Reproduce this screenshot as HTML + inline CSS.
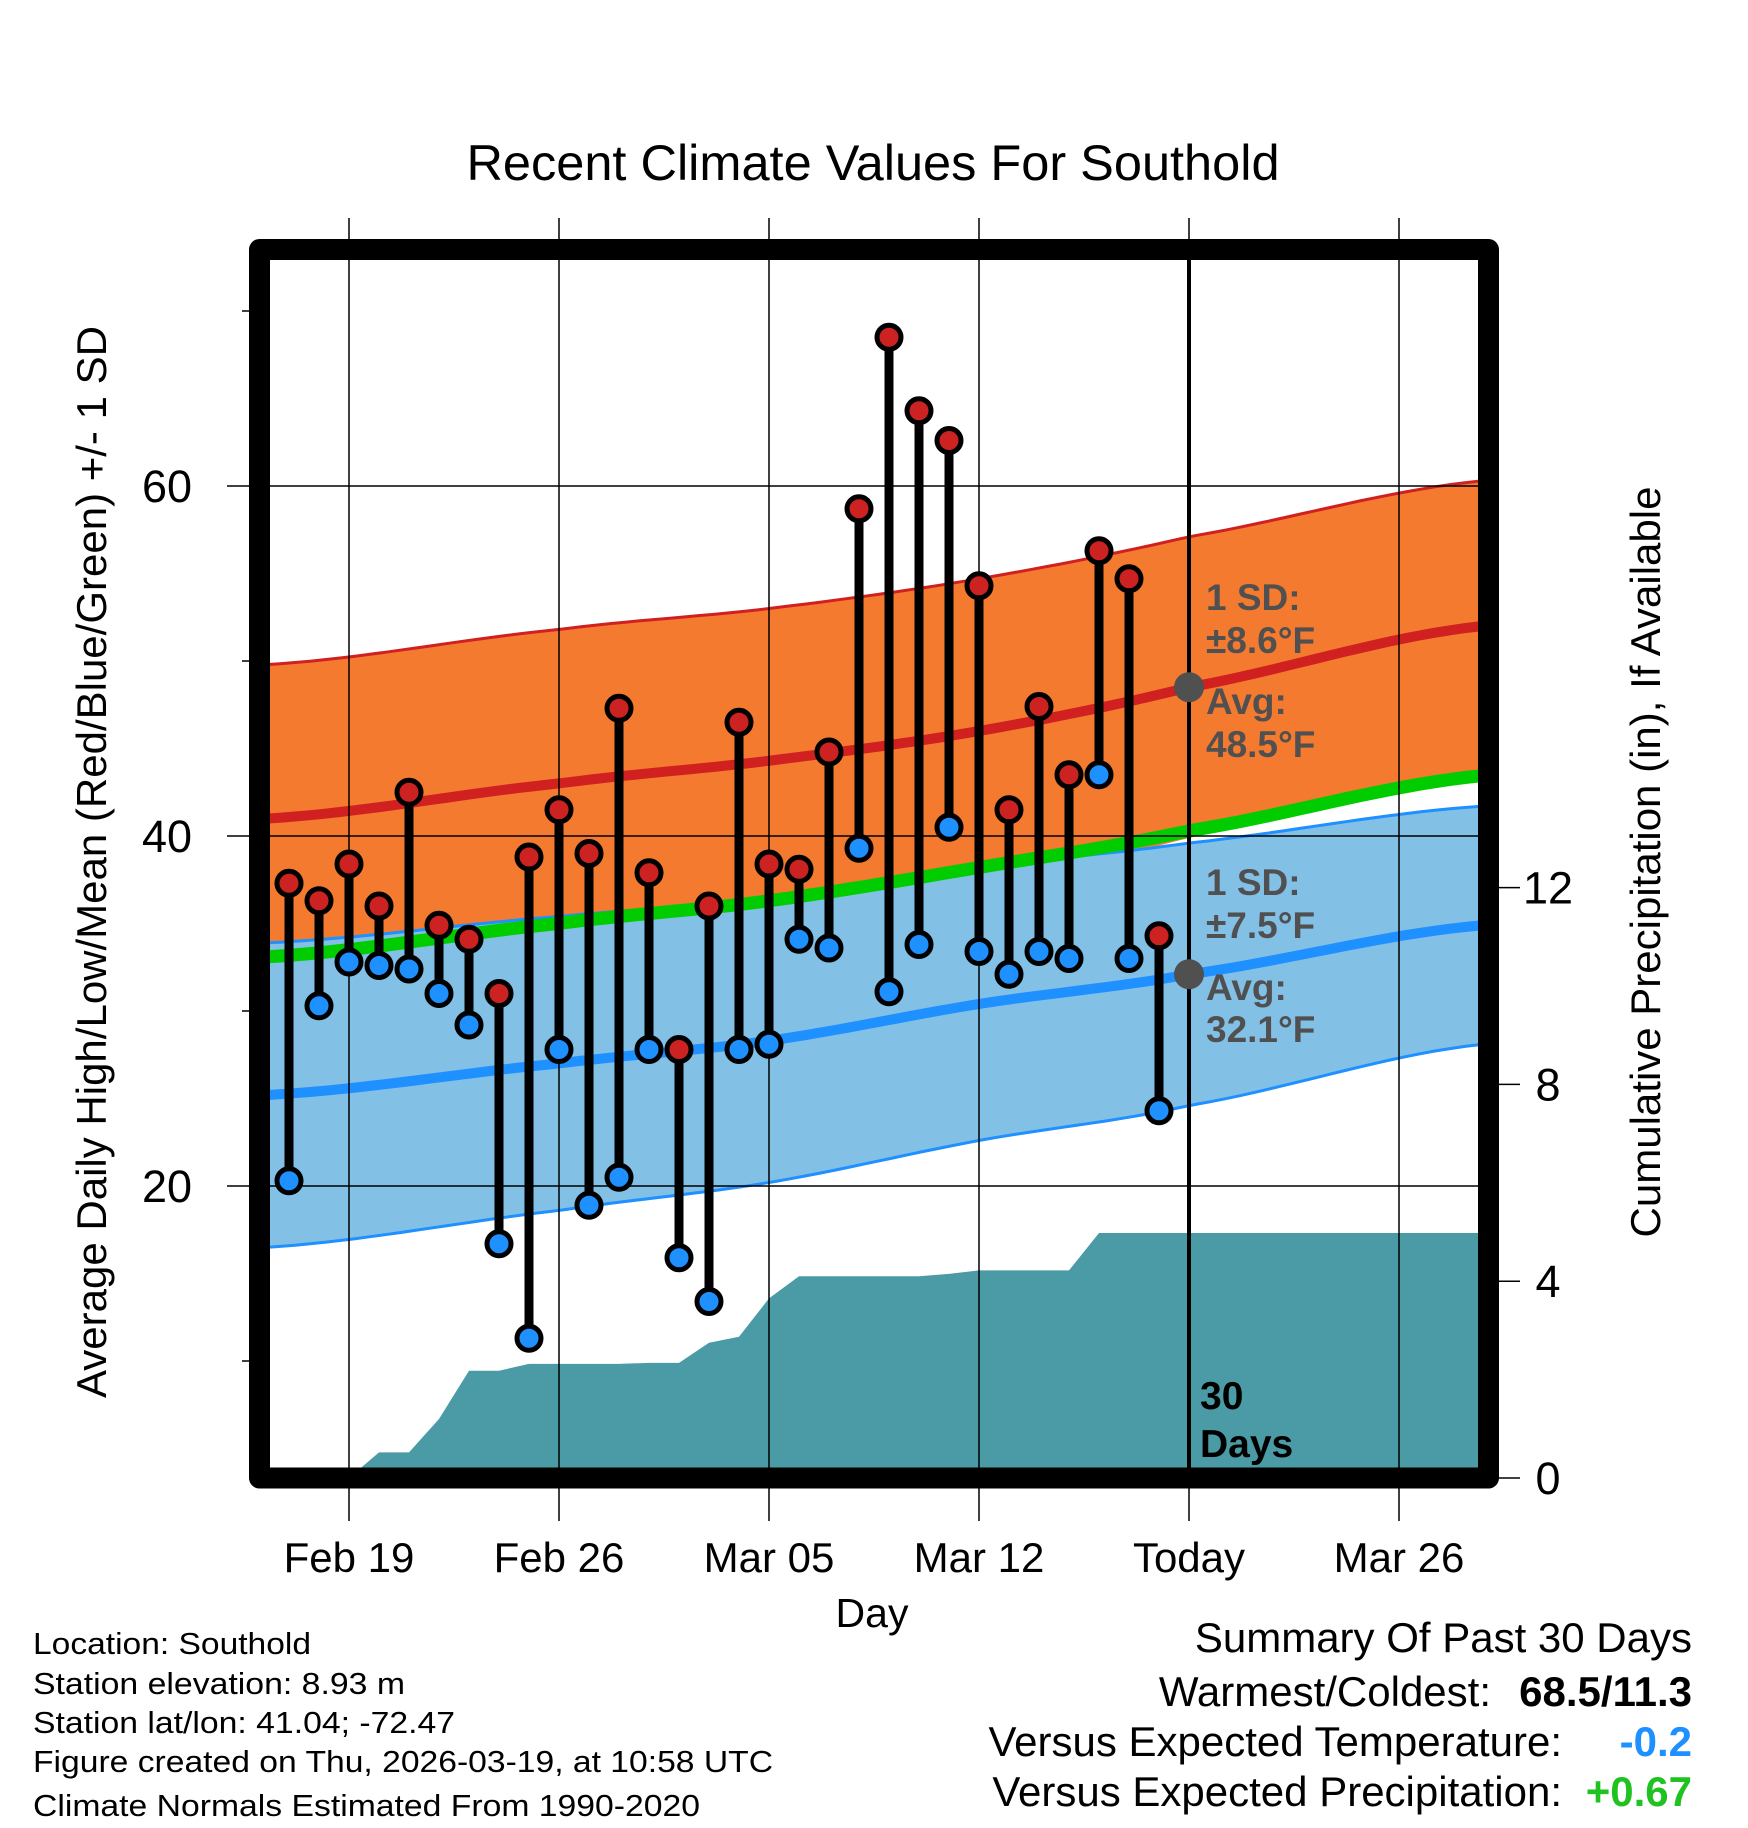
<!DOCTYPE html>
<html><head><meta charset="utf-8"><style>
html,body{margin:0;padding:0;background:#fff}
svg{display:block}
text{font-family:"Liberation Sans",Arial,sans-serif}
</style></head><body>
<svg id="chart" xmlns="http://www.w3.org/2000/svg" width="1748" height="1828" viewBox="0 0 1748 1828">
<defs><clipPath id="plotclip"><rect x="270" y="260" width="1208" height="1208"/></clipPath></defs>
<g id="bands" clip-path="url(#plotclip)"></g>
<g id="grid"></g>
<g id="marks"></g>
<rect x="259.5" y="249.5" width="1229" height="1228.5" fill="none" stroke="#000" stroke-width="21" stroke-linejoin="round"/>
<g id="axes"></g>
<text x="873" y="180" font-size="50.5" text-anchor="middle">Recent Climate Values For Southold</text>
<text transform="translate(106,862) rotate(-90)" font-size="42" text-anchor="middle">Average Daily High/Low/Mean (Red/Blue/Green) +/- 1 SD</text>
<text transform="translate(1660,862) rotate(-90)" font-size="42" text-anchor="middle">Cumulative Precipitation (in), If Available</text>
<text x="872" y="1627" font-size="41" text-anchor="middle">Day</text>
<g font-size="37" font-weight="bold" fill="#505050">
<text x="1206" y="610">1 SD:</text><text x="1206" y="653">±8.6°F</text><text x="1206" y="714">Avg:</text><text x="1206" y="757">48.5°F</text></g>
<g font-size="37" font-weight="bold" fill="#505050">
<text x="1206" y="895">1 SD:</text><text x="1206" y="938">±7.5°F</text><text x="1206" y="1000">Avg:</text><text x="1206" y="1042">32.1°F</text></g>
<g font-size="39" font-weight="bold" fill="#000">
<text x="1200" y="1409">30</text><text x="1200" y="1457">Days</text></g>
<g font-size="31">
<text x="33" y="1654" textLength="278" lengthAdjust="spacingAndGlyphs">Location: Southold</text>
<text x="33" y="1694" textLength="372" lengthAdjust="spacingAndGlyphs">Station elevation: 8.93 m</text>
<text x="33" y="1733" textLength="422" lengthAdjust="spacingAndGlyphs">Station lat/lon: 41.04; -72.47</text>
<text x="33" y="1772" textLength="740" lengthAdjust="spacingAndGlyphs">Figure created on Thu, 2026-03-19, at 10:58 UTC</text>
<text x="33" y="1816" textLength="667" lengthAdjust="spacingAndGlyphs">Climate Normals Estimated From 1990-2020</text></g>
<g font-size="42">
<text x="1692" y="1652" text-anchor="end">Summary Of Past 30 Days</text>
<text x="1491" y="1706" text-anchor="end">Warmest/Coldest:</text>
<text x="1692" y="1706" text-anchor="end" font-weight="bold">68.5/11.3</text>
<text x="1562" y="1756" text-anchor="end">Versus Expected Temperature:</text>
<text x="1692" y="1756" text-anchor="end" font-weight="bold" fill="#1e90ff">-0.2</text>
<text x="1562" y="1806" text-anchor="end">Versus Expected Precipitation:</text>
<text x="1692" y="1806" text-anchor="end" font-weight="bold" fill="#1fc21f">+0.67</text></g>
</svg>
<script>
// ---- data ----
const dayOffsets = [-2,-1,0,1,2,3,4,5,6,7,8,9,10,11,12,13,14,15,16,17,18,19,20,21,22,23,24,25,26,27]; // days from Feb 19
const highs = [37.3,36.3,38.4,36.0,42.5,34.9,34.1,31.0,38.8,41.5,39.0,47.3,37.9,27.8,36.0,46.5,38.4,38.1,44.8,58.7,68.5,64.3,62.6,54.3,41.5,47.4,43.5,56.3,54.7,34.3];
const lows  = [20.3,30.3,32.8,32.6,32.4,31.0,29.2,16.7,11.3,27.8,18.9,20.5,27.8,15.9,13.4,27.8,28.1,34.1,33.6,39.3,31.1,33.8,40.5,33.4,32.1,33.4,33.0,43.5,33.0,24.3];
const precipCum = [0,0,0,0.52,0.52,1.2,2.18,2.18,2.32,2.32,2.32,2.32,2.34,2.34,2.75,2.87,3.65,4.1,4.1,4.1,4.1,4.1,4.15,4.22,4.22,4.22,4.22,4.98,4.98,4.98];
const normDays = [-2.7,7,14,21,28,37.8];
const normHigh = [41.0,43.0,44.3,46.0,48.5,52.0];
const sdHigh   = [8.8,8.8,8.7,8.7,8.6,8.3];
const normLow  = [25.2,27.0,28.3,30.4,32.1,34.9];
const sdLow    = [8.7,8.4,8.1,7.8,7.5,6.8];
const xTickDays = [0,7,14,21,28,35];
const xTickLabels = ["Feb 19","Feb 26","Mar 05","Mar 12","Today","Mar 26"];
const yTicks = [20,40,60];
const yMinor = [10,30,50,70];
const y2Ticks = [0,4,8,12];

// ---- scales ----
const X = d => 349 + d*30;
const Y = t => 486 + (60-t)*17.5;
const Y2 = p => 1478 - p*49.2;
const NS='http://www.w3.org/2000/svg';
function mk(tag, attrs, parent){const e=document.createElementNS(NS,tag);for(const k in attrs)e.setAttribute(k,attrs[k]);parent.appendChild(e);return e;}
// monotone-ish smooth interpolation (Catmull-Rom) through normals
function smooth(arr, d){
  const n=normDays.length;let i=0;
  while(i<n-2 && d>normDays[i+1]) i++;
  const t=(d-normDays[i])/(normDays[i+1]-normDays[i]);
  const p0=arr[Math.max(i-1,0)],p1=arr[i],p2=arr[i+1],p3=arr[Math.min(i+2,n-1)];
  const t2=t*t,t3=t2*t;
  return 0.5*((2*p1)+(-p0+p2)*t+(2*p0-5*p1+4*p2-p3)*t2+(-p0+3*p1-3*p2+p3)*t3);
}
const samples=[];for(let d=-2.8;d<=37.9;d+=0.5)samples.push(d);
function linePts(fn){return samples.map(d=>X(d).toFixed(1)+','+Y(fn(d)).toFixed(1)).join(' ');}
const hM=d=>smooth(normHigh,d), hS=d=>smooth(sdHigh,d), lM=d=>smooth(normLow,d), lS=d=>smooth(sdLow,d);
const bands=document.getElementById('bands');
function band(up,lo,fill,name){const top=samples.map(d=>X(d)+','+Y(up(d)));const bot=samples.slice().reverse().map(d=>X(d)+','+Y(lo(d)));
  const p=mk('polygon',{points:top.concat(bot).join(' '),fill:fill},bands);
  
  }
band(d=>hM(d)+hS(d),d=>hM(d)-hS(d),'#f47a2f','high-sd-band');
band(d=>lM(d)+lS(d),d=>lM(d)-lS(d),'#82c0e6','low-sd-band');
function line(fn,color,w,name){const l=mk('polyline',{points:linePts(fn),fill:'none',stroke:color,'stroke-width':w},bands);
  
  }
line(d=>hM(d)+hS(d),'#d02020',3,'high-upper-line');
line(d=>lM(d)+lS(d),'#1e90ff',3,'low-upper-line');
line(d=>lM(d)-lS(d),'#1e90ff',3,'low-lower-line');
line(d=>(hM(d)+lM(d))/2,'#00cc00',13,'mean-normal-line');
line(hM,'#d02020',10,'high-normal-line');
line(lM,'#1e90ff',10,'low-normal-line');
// precip
const pp=[X(-2.8)+','+Y2(0)];
dayOffsets.forEach((d,i)=>pp.push(X(d)+','+Y2(precipCum[i])));
pp.push(X(38)+','+Y2(precipCum[precipCum.length-1]));pp.push(X(38)+','+Y2(0));
const pa=mk('polygon',{points:pp.join(' '),fill:'#4a9ba5'},bands);


// grid
const grid=document.getElementById('grid');
xTickDays.forEach((d,i)=>{
  const isToday=xTickLabels[i]==='Today';
  const g=mk('line',{x1:X(d),x2:X(d),y1:218,y2:1521,stroke:'#000','stroke-width':1.5},grid);
  
  
  if(isToday){const t=mk('line',{x1:X(d),x2:X(d),y1:260,y2:1468,stroke:'#000','stroke-width':4},grid);
    
    }
  const tx=mk('text',{x:X(d),y:1572,'font-size':42,'text-anchor':'middle'},grid);tx.textContent=xTickLabels[i];
  
  
});
yTicks.forEach(t=>{
  const g=mk('line',{x1:227,x2:1478,y1:Y(t),y2:Y(t),stroke:'#000','stroke-width':1.5},grid);
  
  
  const tx=mk('text',{x:167,y:Y(t)+16,'font-size':45,'text-anchor':'middle'},grid);tx.textContent=t;
  
  
});
yMinor.forEach(t=>{const m=mk('line',{x1:242,x2:260,y1:Y(t),y2:Y(t),stroke:'#000','stroke-width':1.5},grid);
  
  });
// marks
const marks=document.getElementById('marks');
dayOffsets.forEach((d,i)=>{
  const s=mk('line',{x1:X(d),x2:X(d),y1:Y(highs[i]),y2:Y(lows[i]),stroke:'#000','stroke-width':9},marks);
  
  
});
dayOffsets.forEach((d,i)=>{
  const h=mk('circle',{cx:X(d),cy:Y(highs[i]),r:12,fill:'#cc2222',stroke:'#000','stroke-width':5},marks);
  
  
  const l=mk('circle',{cx:X(d),cy:Y(lows[i]),r:12,fill:'#1e90ff',stroke:'#000','stroke-width':5},marks);
  
  
});
const todayD=28;
[hM(todayD),lM(todayD)].forEach(v=>{const c=mk('circle',{cx:X(todayD),cy:Y(v),r:15,fill:'#505050'},marks);
  
  });
// right axis
const axes=document.getElementById('axes');
y2Ticks.forEach(p=>{
  const t=mk('line',{x1:1499,x2:1520,y1:Y2(p),y2:Y2(p),stroke:'#000','stroke-width':1.5},axes);
  
  
  const tx=mk('text',{x:1548,y:Y2(p)+16,'font-size':45,'text-anchor':'middle'},axes);tx.textContent=p;
  
  
});
</script>
</body></html>
